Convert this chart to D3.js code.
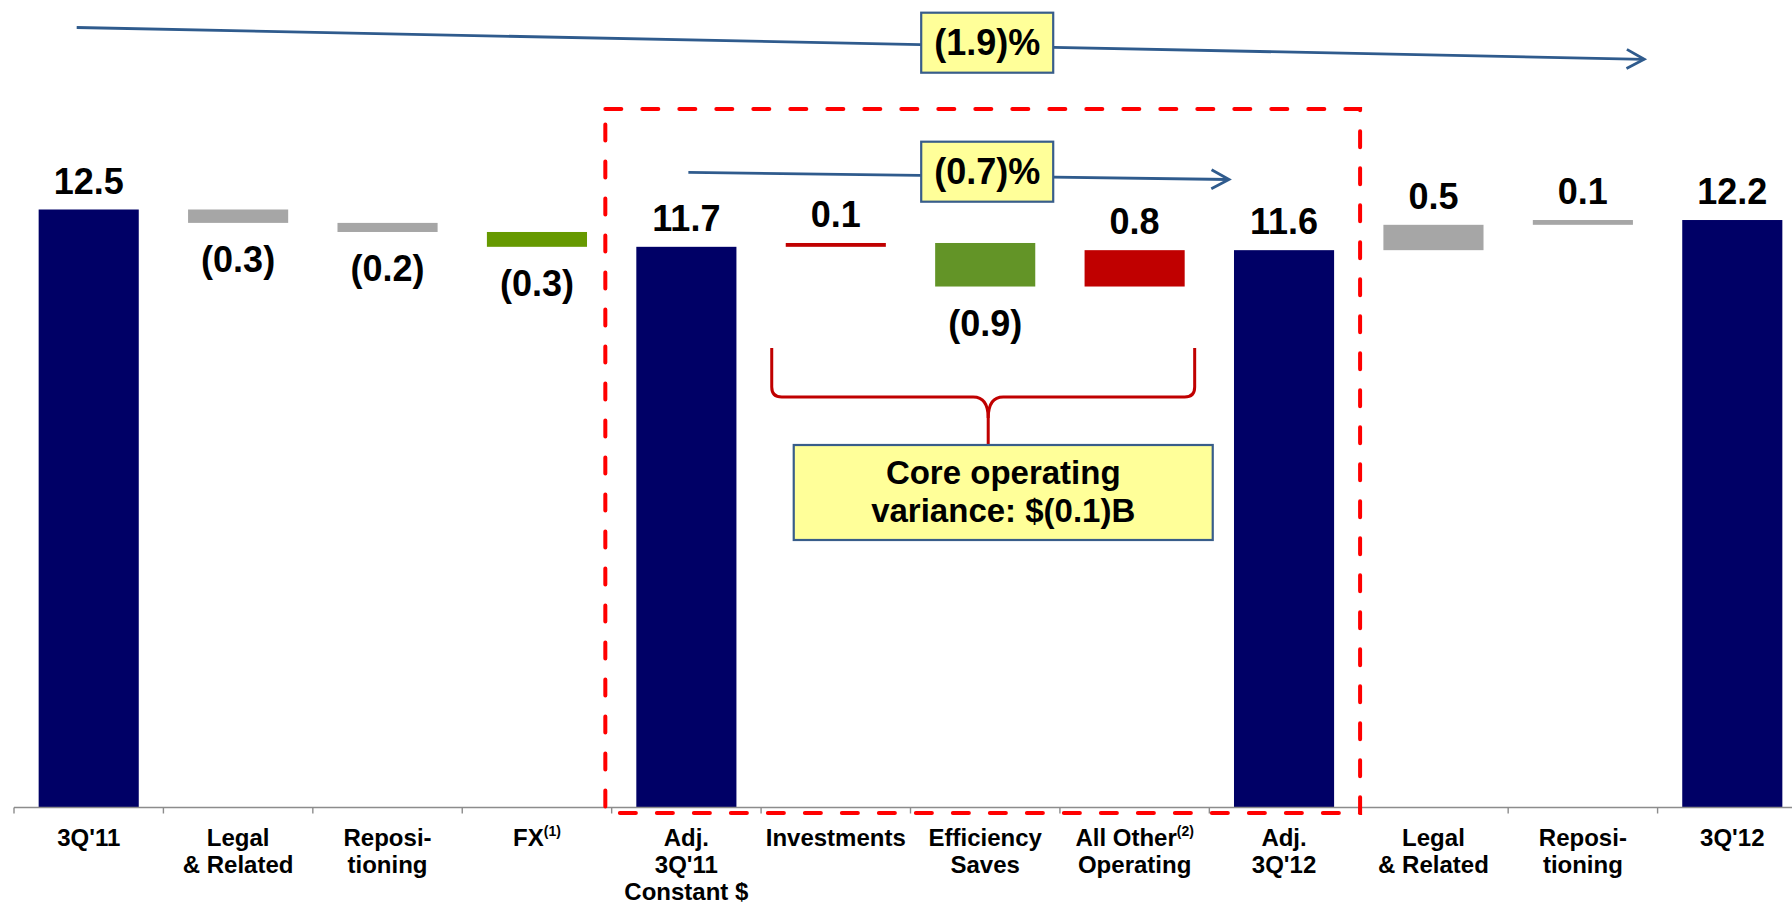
<!DOCTYPE html>
<html>
<head>
<meta charset="utf-8">
<script src="https://cdn.jsdelivr.net/npm/d3@7"></script>
<style>
  html, body { margin: 0; padding: 0; background: #ffffff; }
  svg { display: block; font-family: "Liberation Sans", Arial, Helvetica, sans-serif; }
</style>
</head>
<body>
<svg id="chart" width="1792" height="907"></svg>
<script>
// ---------------- data ----------------
const categories = [
  ["3Q'11"],
  ["Legal", "& Related"],
  ["Reposi-", "tioning"],
  ["FX^(1)"],
  ["Adj.", "3Q'11", "Constant $"],
  ["Investments"],
  ["Efficiency", "Saves"],
  ["All Other^(2)", "Operating"],
  ["Adj.", "3Q'12"],
  ["Legal", "& Related"],
  ["Reposi-", "tioning"],
  ["3Q'12"]
];
// totals are absolute levels, other entries are changes ($B)
const kinds = ["total", "legal", "repo", "fx", "total", "invest", "save", "other", "total", "legal", "repo", "total"];
const values = [12.5, -0.28, -0.19, -0.31, 11.72, 0.08, -0.91, 0.76, 11.65, 0.53, 0.10, 12.28];
const valueLabels = ["12.5", "(0.3)", "(0.2)", "(0.3)", "11.7", "0.1", "(0.9)", "0.8", "11.6", "0.5", "0.1", "12.2"];
const growthLabels = ["(1.9)%", "(0.7)%"];
const calloutLines = ["Core operating", "variance: $(0.1)B"];

// ---------------- setup ----------------
const svg = d3.select("#chart");
const axisY = 807.5;

const x = d3.scaleBand()
  .domain(d3.range(categories.length))
  .range([14, 1807])
  .paddingInner(0.33)
  .paddingOuter(0.165);
const bw = x.bandwidth();
const step = x.step();
const cx = i => x(i) + bw / 2;

const y = d3.scaleLinear().domain([0, 13]).range([axisY, axisY - 13 * 47.84]);

const color = d3.scaleOrdinal()
  .domain(["total", "legal", "repo", "fx", "invest", "save", "other"])
  .range(["#000066", "#A6A6A6", "#A6A6A6", "#669900", "#C00000", "#639427", "#C00000"]);

// waterfall geometry
let running = 0;
const bars = values.map((v, i) => {
  let lo, hi;
  if (kinds[i] === "total") { lo = 0; hi = v; running = v; }
  else { const s = running; running = s + v; lo = Math.min(s, running); hi = Math.max(s, running); }
  return { i, v, lo, hi, kind: kinds[i], label: valueLabels[i] };
});

// ---------------- annotations behind bars ----------------
const blue = "#2F5B8D";

function arrow(g, x1, y1, x2, y2) {
  g.append("line").attr("x1", x1).attr("y1", y1).attr("x2", x2).attr("y2", y2)
    .attr("stroke", blue).attr("stroke-width", 2.8);
  const ang = Math.atan2(y2 - y1, x2 - x1);
  const len = 20, spread = 0.5;
  const p1 = [x2 - len * Math.cos(ang - spread), y2 - len * Math.sin(ang - spread)];
  const p2 = [x2 - len * Math.cos(ang + spread), y2 - len * Math.sin(ang + spread)];
  g.append("path").attr("d", `M${p1[0]},${p1[1]} L${x2},${y2} L${p2[0]},${p2[1]}`)
    .attr("fill", "none").attr("stroke", blue).attr("stroke-width", 2.8)
    .attr("stroke-linejoin", "miter");
}

function growthBox(g, xc, yTop, text) {
  const w = 132, h = 60;
  g.append("rect").attr("x", xc - w / 2).attr("y", yTop).attr("width", w).attr("height", h)
    .attr("fill", "#FFFF99").attr("stroke", "#385D8A").attr("stroke-width", 2.2);
  g.append("text").attr("x", xc).attr("y", yTop + 42.5).attr("text-anchor", "middle")
    .attr("font-size", 36).attr("font-weight", "bold").attr("fill", "#000").text(text);
}

const ann = svg.append("g");
// overall growth arrow
arrow(ann, cx(0) - 12, 27.5, x(11) - 38, 59.3);
growthBox(ann, cx(6) + 2, 12.7, growthLabels[0]);
// core growth arrow
arrow(ann, cx(4) + 2, 172.3, x(8) - 5, 179.5);
growthBox(ann, cx(6) + 2, 141.7, growthLabels[1]);

// ---------------- bars ----------------
svg.append("g").selectAll("rect").data(bars).join("rect")
  .attr("x", d => x(d.i))
  .attr("width", bw)
  .attr("y", d => y(d.hi))
  .attr("height", d => Math.max(0, y(d.lo) - y(d.hi)))
  .attr("fill", d => color(d.kind));

// value labels
svg.append("g").selectAll("text").data(bars).join("text")
  .attr("x", d => cx(d.i))
  .attr("y", d => (d.kind === "total" || d.v >= 0) ? y(d.hi) - 16 : y(d.lo) + 49)
  .attr("text-anchor", "middle")
  .attr("font-size", 36).attr("font-weight", "bold").attr("fill", "#000")
  .text(d => d.label);

// ---------------- axis ----------------
const axisG = svg.append("g").attr("transform", `translate(0,${axisY})`)
  .call(d3.axisBottom(x).tickSize(0).tickSizeOuter(0).tickFormat(""));
axisG.select(".domain").attr("stroke", "#8C8C8C").attr("stroke-width", 1.6)
  .attr("d", `M${x.range()[0]},0H1792`);
axisG.selectAll(".tick").remove();
axisG.selectAll("line.bnd").data(d3.range(categories.length + 1)).join("line")
  .attr("class", "bnd")
  .attr("x1", i => x.range()[0] + i * step).attr("x2", i => x.range()[0] + i * step)
  .attr("y1", 0).attr("y2", 6)
  .attr("stroke", "#8C8C8C").attr("stroke-width", 1.4);

// category labels
const catG = svg.append("g");
categories.forEach((lines, i) => {
  const t = catG.append("text").attr("text-anchor", "middle")
    .attr("font-size", 24).attr("font-weight", "bold").attr("fill", "#000");
  lines.forEach((ln, k) => {
    const parts = ln.split("^");
    t.append("tspan").attr("x", cx(i)).attr("y", axisY + 38 + k * 27).text(parts[0]);
    if (parts[1]) {
      t.append("tspan").attr("font-size", 14).attr("dy", -10).text(parts[1]);
    }
  });
});

// ---------------- red dashed box ----------------
svg.append("rect")
  .attr("x", x(4) - 31).attr("y", 109)
  .attr("width", (x(8) + bw + 26) - (x(4) - 31))
  .attr("height", axisY + 5.5 - 109)
  .attr("fill", "none").attr("stroke", "#FF0000").attr("stroke-width", 4)
  .attr("stroke-dasharray", "16 21").attr("stroke-linecap", "round");

// ---------------- brace & callout ----------------
const bx1 = x(5) - 14, bx2 = x(7) + bw + 10, tip = cx(6) + 3;
const bTop = 348, bMid = 397, bStem = 418, bEnd = 445;
const brace = svg.append("g").attr("fill", "none").attr("stroke", "#C00000").attr("stroke-width", 3);
brace.append("path").attr("d",
  `M${bx1},${bTop} L${bx1},${bMid - 10} Q${bx1},${bMid} ${bx1 + 10},${bMid} L${tip - 15},${bMid} Q${tip},${bMid} ${tip},${bStem} L${tip},${bEnd}`);
brace.append("path").attr("d",
  `M${bx2},${bTop} L${bx2},${bMid - 10} Q${bx2},${bMid} ${bx2 - 10},${bMid} L${tip + 15},${bMid} Q${tip},${bMid} ${tip},${bStem}`);

const boxX = bx1 + 22, boxW = 419, boxY = 445, boxH = 95;
svg.append("rect").attr("x", boxX).attr("y", boxY).attr("width", boxW).attr("height", boxH)
  .attr("fill", "#FFFF99").attr("stroke", "#385D8A").attr("stroke-width", 2.2);
const ct = svg.append("text").attr("text-anchor", "middle")
  .attr("font-size", 33).attr("font-weight", "bold").attr("fill", "#000");
calloutLines.forEach((ln, k) => {
  ct.append("tspan").attr("x", boxX + boxW / 2).attr("y", boxY + 39 + k * 38).text(ln);
});
</script>
</body>
</html>
